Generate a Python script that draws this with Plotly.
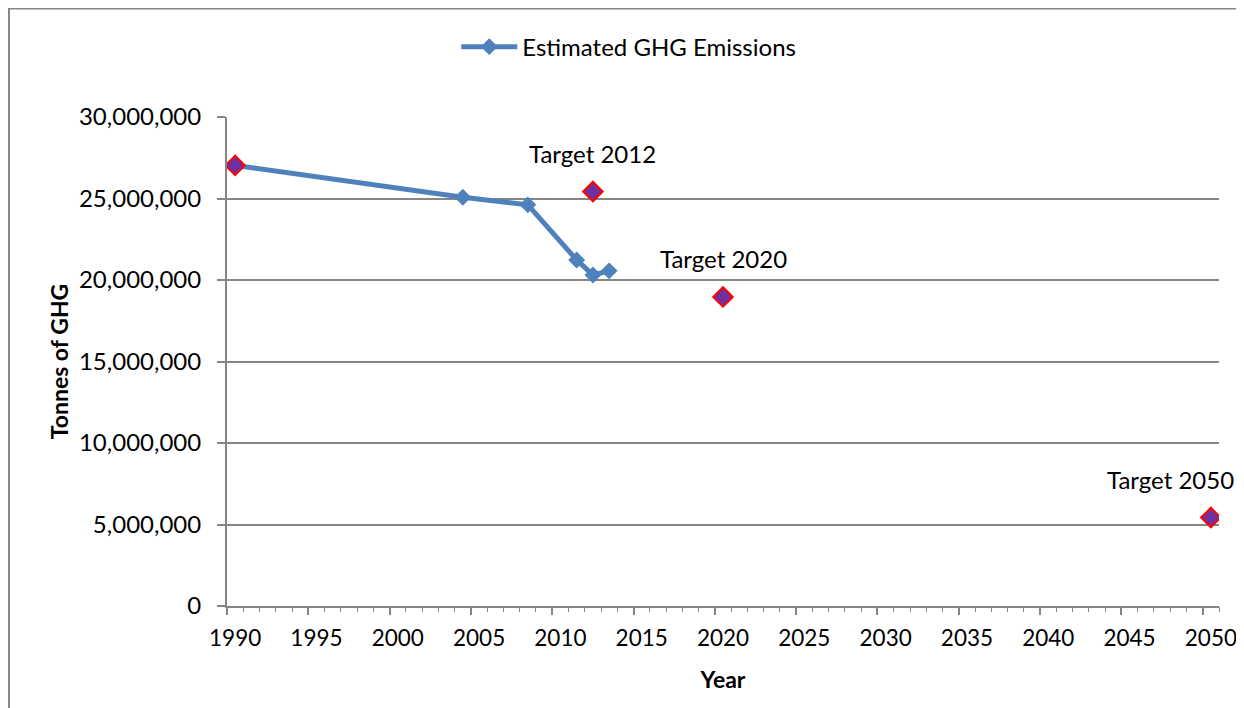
import plotly.graph_objects as go

# Data
years = [1990, 2004, 2008, 2011, 2012, 2013]
emissions = [27030000, 25080000, 24610000, 21230000, 20310000, 20560000]

target_years = [1990, 2012, 2020, 2050]
target_values = [27030000, 25430000, 18960000, 5430000]
target_labels = ["", "Target 2012", "Target 2020", "Target 2050"]

x_tick_labels = [1990, 1995, 2000, 2005, 2010, 2015, 2020, 2025, 2030, 2035, 2040, 2045, 2050]
y_tick_values = [0, 5000000, 10000000, 15000000, 20000000, 25000000, 30000000]

FONT = "Lato, Carlito, Calibri, sans-serif"
GRAY = "#868686"
BLUE = "#4F81BD"

fig = go.Figure()

fig.add_trace(go.Scatter(
    x=years, y=emissions, mode="lines+markers",
    name="Estimated GHG Emissions",
    line=dict(color=BLUE, width=5),
    marker=dict(symbol="diamond", size=13, color=BLUE),
))

fig.add_trace(go.Scatter(
    x=target_years, y=target_values, mode="markers",
    name="Targets", showlegend=False,
    marker=dict(symbol="diamond", size=15, color="#7030A0",
                line=dict(color="#FF0000", width=2)),
))

# invisible trace for the tick-mark axis
fig.add_trace(go.Scatter(x=[1990], y=[0], xaxis="x2", mode="markers",
                         marker=dict(opacity=0), showlegend=False, hoverinfo="skip"))

# target labels
label_offsets = {"Target 2050": -40}
for xv, yv, lab in zip(target_years, target_values, target_labels):
    if not lab:
        continue
    fig.add_annotation(x=xv, y=yv, text=lab, showarrow=False,
                       xanchor="center", yanchor="middle",
                       xshift=label_offsets.get(lab, 0), yshift=38,
                       font=dict(family=FONT, size=24, color="#000000"))

fig.update_layout(
    width=1236, height=700,
    margin=dict(l=219, r=25, t=109, b=102, autoexpand=False),
    paper_bgcolor="white", plot_bgcolor="white",
    font=dict(family=FONT, size=24, color="#000000"),
    showlegend=True,
    legend=dict(orientation="h", x=0.405, y=1.143, xanchor="center", yanchor="middle",
                font=dict(family=FONT, size=24, color="#000000"),
                itemwidth=56, bgcolor="rgba(0,0,0,0)"),
    xaxis=dict(
        range=[1989.5, 2050.5], tickmode="array", tickvals=x_tick_labels,
        ticktext=[str(v) for v in x_tick_labels], automargin=False,
        ticklabeloverflow="allow",
        ticks="", showgrid=False, zeroline=False, ticklabelstandoff=11,
        showline=True, linecolor=GRAY, linewidth=2,
        tickfont=dict(family=FONT, size=22.5, color="#000000"),
        title=dict(text="<b>Year</b>", font=dict(family=FONT, size=23, color="#000000"), standoff=22),
    ),
    xaxis2=dict(
        range=[1989.5, 2050.5], overlaying="x", anchor="y", side="bottom",
        automargin=False,
        tickmode="linear", tick0=1989.5, dtick=5, ticks="outside", ticklen=8,
        tickcolor=GRAY, tickwidth=2, showticklabels=False, showgrid=False,
        zeroline=False, showline=False,
        minor=dict(tick0=1989.5, dtick=1, ticks="outside", ticklen=5,
                   tickcolor=GRAY, tickwidth=1, showgrid=False),
    ),
    yaxis=dict(
        range=[0, 30000000], tickmode="array", tickvals=y_tick_values,
        tickformat=",d", ticks="outside", ticklen=8, tickcolor=GRAY, tickwidth=2,
        ticklabelstandoff=11, automargin=False,
        showgrid=True, gridcolor=GRAY, gridwidth=1.5, zeroline=False,
        showline=True, linecolor=GRAY, linewidth=2,
        tickfont=dict(family=FONT, size=24, color="#000000"),
        title=dict(text="<b>Tonnes of GHG</b>", font=dict(family=FONT, size=23, color="#000000"), standoff=4),
    ),
)

# outer chart border (edge of the chart area)
fig.add_shape(type="rect", xref="paper", yref="paper",
              x0=-0.2198, x1=1.2, y0=-0.4, y1=1.2219,
              line=dict(color=GRAY, width=2), fillcolor="rgba(0,0,0,0)", layer="below")

fig.write_html("out.html")
